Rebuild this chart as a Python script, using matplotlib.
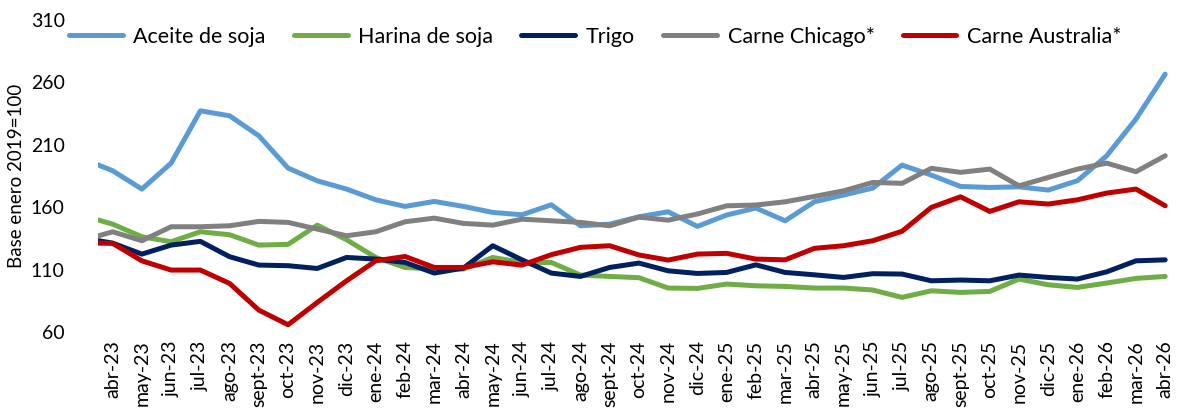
import numpy as np
import matplotlib
matplotlib.use('Agg')
import matplotlib.pyplot as plt

plt.rcParams['font.family'] = ['Lato', 'DejaVu Sans']

# first month (mar-23) sits outside the visible range, only its segment shows
months = ["mar-23", "abr-23", "may-23", "jun-23", "jul-23", "ago-23", "sept-23", "oct-23", "nov-23", "dic-23",
          "ene-24", "feb-24", "mar-24", "abr-24", "may-24", "jun-24", "jul-24", "ago-24", "sept-24",
          "oct-24", "nov-24", "dic-24", "ene-25", "feb-25", "mar-25", "abr-25", "may-25", "jun-25",
          "jul-25", "ago-25", "sept-25", "oct-25", "nov-25", "dic-25", "ene-26", "feb-26", "mar-26", "abr-26"]

aceite = [197.9, 188.5, 173.8, 194.6, 236.5, 232.5, 216.5, 190.6, 180.4, 173.8,
          165.2, 159.9, 163.9, 159.9, 155.1, 153.2, 161.2, 144.4, 145.7,
          151.6, 155.6, 143.9, 153.0, 158.6, 148.4, 163.6, 169.0, 174.6,
          193.0, 185.0, 175.9, 175.1, 175.6, 173.0, 180.5, 200.5, 229.9, 265.9]
harina = [152.4, 145.7, 135.6, 131.6, 139.6, 137.2, 128.9, 129.5, 144.9, 133.2,
          119.0, 111.0, 109.7, 109.7, 119.0, 115.0, 115.0, 104.9, 103.8,
          102.8, 94.5, 94.2, 97.7, 96.3, 95.8, 94.5, 94.5, 92.9,
          87.0, 92.3, 91.0, 91.8, 101.7, 97.1, 95.0, 98.5, 102.2, 103.8]
trigo = [134.5, 130.5, 121.7, 128.9, 131.9, 119.6, 112.9, 112.4, 110.2, 119.0,
         117.7, 115.0, 106.5, 110.5, 128.4, 117.1, 106.5, 103.8, 111.0,
         114.5, 108.3, 106.2, 107.0, 113.1, 107.0, 105.1, 103.0, 106.0,
         105.7, 100.3, 100.9, 100.3, 104.9, 103.0, 101.7, 107.5, 116.3, 117.1]
chicago = [132.9, 139.6, 132.4, 143.6, 143.6, 144.4, 147.9, 147.1, 141.7, 136.4,
           139.6, 147.6, 150.5, 146.3, 144.9, 149.7, 148.4, 147.1, 144.4,
           151.3, 148.9, 153.8, 160.4, 161.0, 163.6, 167.9, 172.4, 179.1,
           178.4, 190.4, 187.2, 189.8, 176.4, 183.1, 189.8, 194.6, 187.7, 200.5]
australia = [130.7, 130.3, 116.3, 108.9, 108.9, 98.2, 76.8, 65.1, 83.0, 100.3,
             116.3, 119.8, 111.0, 111.0, 115.5, 112.9, 121.2, 127.1, 128.4,
             121.0, 116.9, 121.7, 122.3, 117.7, 117.1, 126.3, 128.4, 132.4,
             140.0, 159.1, 167.6, 155.9, 163.6, 161.8, 165.2, 170.6, 173.8, 160.4]

series = [("Aceite de soja", aceite, "#5B9BD5"),
          ("Harina de soja", harina, "#70AD47"),
          ("Trigo", trigo, "#002060"),
          ("Carne Chicago*", chicago, "#808080"),
          ("Carne Australia*", australia, "#C00000")]

x = np.arange(len(months)) - 1

fig = plt.figure(figsize=(11.81, 4.10), dpi=100)
ax = fig.add_axes([0.083, 0.19, 0.916, 0.761])

for name, vals, col in series:
    ax.plot(x, vals, color=col, lw=3.6, label=name, solid_joinstyle='round', solid_capstyle='round')

ax.set_xlim(-0.5, 36.5)
ax.set_ylim(60, 310)
ax.set_yticks(np.arange(60, 311, 50))
ax.set_xticks(x[1:])
ax.set_xticklabels(months[1:], rotation=90, fontsize=14)
ax.tick_params(axis='y', length=0, pad=24, labelsize=14)
ax.tick_params(axis='x', length=0, pad=6)
for s in ax.spines.values():
    s.set_visible(False)

ax.set_ylabel("Base enero 2019=100", fontsize=13.5, labelpad=4)

leg = ax.legend(ncol=5, loc='center left', bbox_to_anchor=(-0.027, 0.9455), frameon=False,
                borderpad=0, borderaxespad=0,
                fontsize=15.5, handlelength=2.5, handletextpad=0.5, columnspacing=1.3)

plt.savefig("out.png", dpi=100)
